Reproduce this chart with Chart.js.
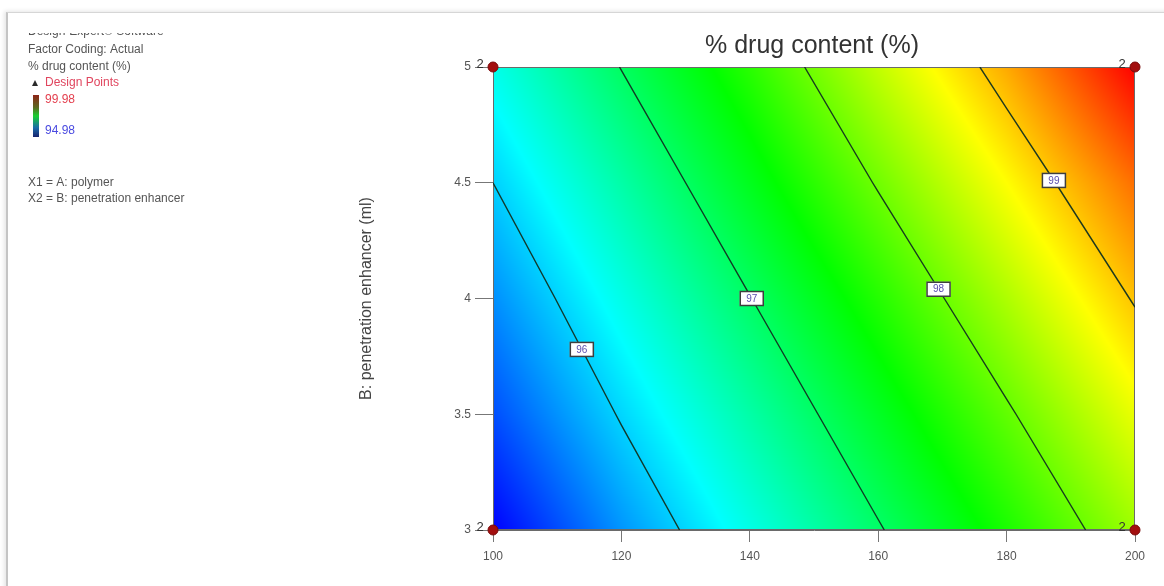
<!DOCTYPE html>
<html>
<head>
<meta charset="utf-8">
<script src="https://cdn.jsdelivr.net/npm/chart.js@4.4.1/dist/chart.umd.min.js"></script>
<style>
  html, body { margin: 0; padding: 0; background: #fff; }
  #wrap { position: relative; width: 1164px; height: 586px; overflow: hidden; }
  #frame { position: absolute; left: 6px; top: 12px; width: 1170px; height: 590px;
           border-top: 1px solid #d6d6d6; border-left: 2px solid #c4c4c4;
           box-shadow: -2px -1px 4px rgba(0,0,0,0.10); }
  canvas { position: absolute; left: 0; top: 0; }
</style>
</head>
<body>
<div id="wrap">
  <div id="frame"></div>
  <canvas id="c" width="1164" height="586"></canvas>
</div>
<script>
// Factor levels
const polymerLevels = [100, 120, 140, 160, 180, 200];      // A: polymer
const enhancerLevels = [3, 3.5, 4, 4.5, 5];                 // B: penetration enhancer (ml)

// Predicted % drug content on the factor grid (one row per enhancer level)
const contentAtB3   = [94.98, 95.71, 96.35, 96.97, 97.60, 98.25];
const contentAtB3_5 = [95.36, 96.03, 96.66, 97.30, 97.95, 98.63];
const contentAtB4   = [95.68, 96.34, 96.99, 97.65, 98.33, 99.03];
const contentAtB4_5 = [96.00, 96.66, 97.34, 98.03, 98.73, 99.44];
const contentAtB5   = [96.33, 97.01, 97.68, 98.43, 99.15, 99.98];

// Contour levels and where their labels sit (enhancer value along each line)
const contourLevels = [96, 97, 98, 99];
const contourLabelB = [3.78, 4.0, 4.04, 4.51];

// Design points and their replicate counts
const designPolymer  = [100, 100, 200, 200];
const designEnhancer = [3, 5, 3, 5];
const designCounts   = [2, 2, 2, 2];

// Axis tick labels
const xTickLabels = ['100', '120', '140', '160', '180', '200'];
const yTickLabels = ['3', '3.5', '4', '4.5', '5'];

// Response range shown on the colour key
const responseMin = 94.98;
const responseMax = 99.98;

const contentGrid = [contentAtB3, contentAtB3_5, contentAtB4, contentAtB4_5, contentAtB5];

// Blue → cyan → green → yellow → red colour ramp
const rampStops = [[0, 0, 255], [0, 255, 255], [0, 255, 0], [255, 255, 0], [255, 0, 0]];
function rampColor(v) {
  let t = (v - responseMin) / (responseMax - responseMin);
  t = Math.max(0, Math.min(1, t)) * (rampStops.length - 1);
  const i = Math.min(rampStops.length - 2, Math.floor(t));
  const f = t - i;
  const a = rampStops[i], b = rampStops[i + 1];
  return [a[0] + (b[0] - a[0]) * f, a[1] + (b[1] - a[1]) * f, a[2] + (b[2] - a[2]) * f];
}

function locate(levels, v) {
  let i = 0;
  while (i < levels.length - 2 && v > levels[i + 1]) i++;
  let f = (v - levels[i]) / (levels[i + 1] - levels[i]);
  return [i, Math.max(0, Math.min(1, f))];
}

function surfaceValue(a, b) {
  const [i, fx] = locate(polymerLevels, a);
  const [j, fy] = locate(enhancerLevels, b);
  const v00 = contentGrid[j][i], v10 = contentGrid[j][i + 1];
  const v01 = contentGrid[j + 1][i], v11 = contentGrid[j + 1][i + 1];
  return v00 * (1 - fx) * (1 - fy) + v10 * fx * (1 - fy) + v01 * (1 - fx) * fy + v11 * fx * fy;
}

// Crossing points of a contour level on the grid edges, ordered from top to bottom
function contourPoints(level) {
  const pts = [];
  const add = (x, y) => {
    if (!pts.some(p => Math.abs(p.x - x) < 1e-6 && Math.abs(p.y - y) < 1e-6)) pts.push({ x, y });
  };
  for (let j = 0; j < enhancerLevels.length; j++) {
    for (let i = 0; i < polymerLevels.length - 1; i++) {
      const v0 = contentGrid[j][i], v1 = contentGrid[j][i + 1];
      if ((v0 - level) * (v1 - level) <= 0 && v0 !== v1) {
        const t = (level - v0) / (v1 - v0);
        add(polymerLevels[i] + t * (polymerLevels[i + 1] - polymerLevels[i]), enhancerLevels[j]);
      }
    }
  }
  for (let i = 0; i < polymerLevels.length; i++) {
    for (let j = 0; j < enhancerLevels.length - 1; j++) {
      const v0 = contentGrid[j][i], v1 = contentGrid[j + 1][i];
      if ((v0 - level) * (v1 - level) <= 0 && v0 !== v1) {
        const t = (level - v0) / (v1 - v0);
        add(polymerLevels[i], enhancerLevels[j] + t * (enhancerLevels[j + 1] - enhancerLevels[j]));
      }
    }
  }
  pts.sort((p, q) => (q.y - p.y) || (p.x - q.x));
  return pts;
}

const contourData = contourLevels.map(contourPoints);

const contourDatasets = contourLevels.map((lvl, k) => ({
  label: 'contour ' + lvl,
  data: contourData[k],
  showLine: true,
  borderColor: 'rgba(18,48,32,0.95)',
  borderWidth: 1.4,
  pointRadius: 0,
  tension: 0,
  order: 2
}));

const designDataset = {
  label: 'Design Points',
  data: designPolymer.map((a, i) => ({ x: a, y: designEnhancer[i] })),
  backgroundColor: '#a30f0f',
  borderColor: '#7a0a0a',
  borderWidth: 1,
  pointRadius: 5,
  clip: false,
  order: 1
};

// Shaded response surface behind the datasets
const surfacePlugin = {
  id: 'surface',
  beforeDatasetsDraw(chart) {
    const { ctx, chartArea: ca, scales: { x, y } } = chart;
    const w = Math.round(ca.right - ca.left), h = Math.round(ca.bottom - ca.top);
    const off = document.createElement('canvas');
    off.width = w; off.height = h;
    const octx = off.getContext('2d');
    const img = octx.createImageData(w, h);
    for (let py = 0; py < h; py++) {
      const b = y.getValueForPixel(ca.top + py + 0.5);
      for (let px = 0; px < w; px++) {
        const a = x.getValueForPixel(ca.left + px + 0.5);
        const c = rampColor(surfaceValue(a, b));
        const k = (py * w + px) * 4;
        img.data[k] = c[0]; img.data[k + 1] = c[1]; img.data[k + 2] = c[2]; img.data[k + 3] = 255;
      }
    }
    octx.putImageData(img, 0, 0);
    ctx.save();
    ctx.drawImage(off, ca.left, ca.top);
    ctx.strokeStyle = '#6a6a6a';
    ctx.lineWidth = 1;
    ctx.strokeRect(ca.left + 0.5, ca.top + 0.5, w - 1, h - 1);
    ctx.restore();
  },
  afterDatasetsDraw(chart) {
    const { ctx, scales: { x, y } } = chart;
    ctx.save();
    // contour value tags
    contourLevels.forEach((lvl, k) => {
      const pts = contourData[k];
      const bLab = contourLabelB[k];
      let ax = null;
      for (let i = 0; i < pts.length - 1; i++) {
        const p = pts[i], q = pts[i + 1];
        if ((p.y - bLab) * (q.y - bLab) <= 0 && p.y !== q.y) {
          ax = p.x + (bLab - p.y) / (q.y - p.y) * (q.x - p.x);
          break;
        }
      }
      if (ax === null) return;
      const px = x.getPixelForValue(ax), py = y.getPixelForValue(bLab);
      ctx.fillStyle = '#ffffff';
      ctx.fillRect(px - 12, py - 7.5, 24, 15);
      ctx.strokeStyle = '#3e3e3e';
      ctx.lineWidth = 1.5;
      ctx.strokeRect(px - 11.5, py - 7, 23, 14);
      ctx.fillStyle = '#5b4fae';
      ctx.font = '10px "Liberation Sans", Arial, sans-serif';
      ctx.textAlign = 'center';
      ctx.textBaseline = 'middle';
      ctx.fillText(String(lvl), px, py + 0.5);
    });
    // replicate counts beside the design points
    ctx.fillStyle = '#333';
    ctx.font = '13px "Liberation Sans", Arial, sans-serif';
    ctx.textAlign = 'center';
    ctx.textBaseline = 'middle';
    designPolymer.forEach((a, i) => {
      const px = x.getPixelForValue(a), py = y.getPixelForValue(designEnhancer[i]);
      ctx.fillText(String(designCounts[i]), px - 13, py - 3);
    });
    ctx.restore();
  },
  afterDraw(chart) {
    const { ctx, chartArea: ca } = chart;
    ctx.save();
    // plot title
    ctx.fillStyle = '#333';
    ctx.font = '25px "Liberation Sans", Arial, sans-serif';
    ctx.textAlign = 'center';
    ctx.textBaseline = 'middle';
    ctx.fillText('% drug content (%)', (ca.left + ca.right) / 2 - 2, 46);

    // side notes
    ctx.textAlign = 'left';
    ctx.font = '12px "Liberation Sans", Arial, sans-serif';
    ctx.save();
    ctx.beginPath();
    ctx.rect(0, 33, 300, 20);
    ctx.clip();
    ctx.fillStyle = '#555';
    ctx.fillText('Design-Expert\u00AE Software', 28, 32);
    ctx.restore();
    ctx.fillStyle = '#555';
    ctx.fillText('Factor Coding: Actual', 28, 50);
    ctx.fillText('% drug content (%)', 28, 67);
    ctx.fillStyle = '#e0455e';
    ctx.fillText('Design Points', 45, 83);
    ctx.fillStyle = '#2a2a2a';
    ctx.beginPath();
    ctx.moveTo(35, 80); ctx.lineTo(38, 86); ctx.lineTo(32, 86); ctx.closePath(); ctx.fill();

    const g = ctx.createLinearGradient(0, 95, 0, 137);
    g.addColorStop(0, '#8e2318');
    g.addColorStop(0.3, '#5a6a20');
    g.addColorStop(0.5, '#18d030');
    g.addColorStop(0.78, '#1a6aa8');
    g.addColorStop(1, '#17236e');
    ctx.fillStyle = g;
    ctx.fillRect(33, 95, 6, 42);
    ctx.fillStyle = '#e4404f';
    ctx.fillText(responseMax.toFixed(2), 45, 100);
    ctx.fillStyle = '#4a4ae0';
    ctx.fillText(responseMin.toFixed(2), 45, 131);

    ctx.fillStyle = '#555';
    ctx.fillText('X1 = A: polymer', 28, 183);
    ctx.fillText('X2 = B: penetration enhancer', 28, 199);
    ctx.restore();
  }
};

new Chart(document.getElementById('c'), {
  type: 'scatter',
  data: { datasets: [...contourDatasets, designDataset] },
  options: {
    responsive: false,
    animation: false,
    devicePixelRatio: 1,
    layout: { padding: { left: 357, right: 29, top: 67, bottom: 0 } },
    plugins: { legend: { display: false }, tooltip: { enabled: false }, title: { display: false } },
    scales: {
      x: {
        type: 'linear',
        min: 100, max: 200,
        afterFit: s => { s.height = 56; },
        afterBuildTicks: s => { s.ticks = polymerLevels.map(v => ({ value: v })); },
        ticks: {
          padding: 7,
          color: '#555',
          font: { family: '"Liberation Sans", Arial, sans-serif', size: 12 },
          callback: (v, i) => xTickLabels[i]
        },
        grid: { drawOnChartArea: false, tickLength: 12, color: '#777', tickWidth: 1 },
        border: { display: true, color: '#6a6a6a' }
      },
      y: {
        type: 'linear',
        min: 3, max: 5,
        afterFit: s => { s.width = 136; },
        afterBuildTicks: s => { s.ticks = enhancerLevels.map(v => ({ value: v })); },
        ticks: {
          padding: 4,
          color: '#555',
          font: { family: '"Liberation Sans", Arial, sans-serif', size: 12 },
          callback: (v, i) => yTickLabels[i]
        },
        grid: { drawOnChartArea: false, tickLength: 18, color: '#777', tickWidth: 1 },
        border: { display: true, color: '#6a6a6a' },
        title: {
          display: true,
          text: 'B: penetration enhancer (ml)',
          color: '#444',
          font: { family: '"Liberation Sans", Arial, sans-serif', size: 16 },
          padding: { top: 0, bottom: 0 }
        }
      }
    }
  },
  plugins: [surfacePlugin]
});
</script>
</body>
</html>
